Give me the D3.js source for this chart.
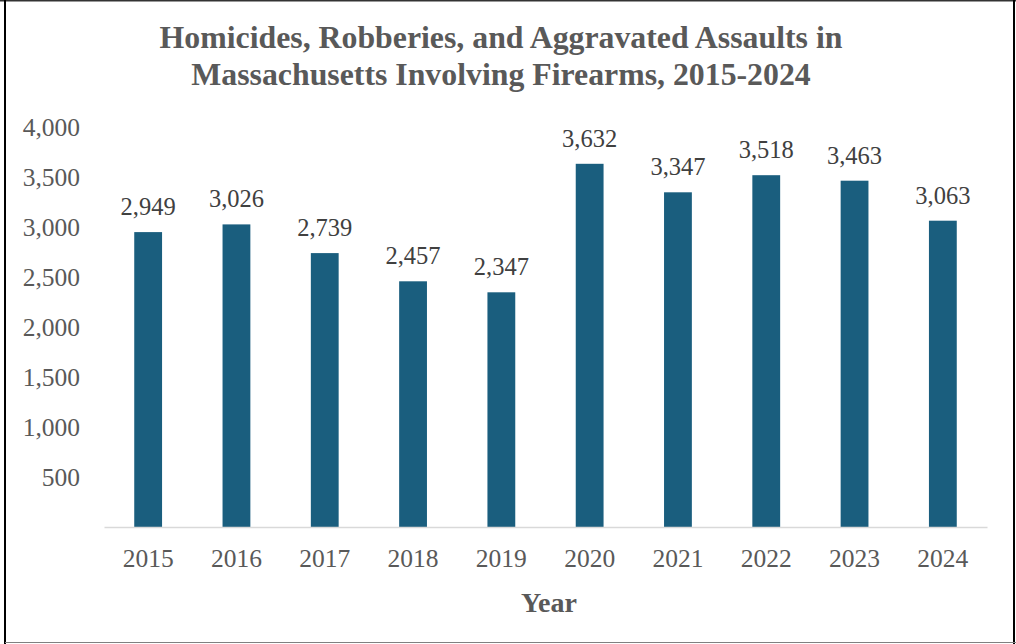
<!DOCTYPE html>
<html>
<head>
<meta charset="utf-8">
<script src="https://cdn.jsdelivr.net/npm/d3@7"></script>
<style>
  html, body { margin: 0; padding: 0; background: #fff; }
  svg { display: block; }
  text { font-family: "Liberation Serif", "Times New Roman", serif; }
</style>
</head>
<body>
<svg id="chart" width="1016" height="644"></svg>
<script>
// Firearm-involved homicides, robberies and aggravated assaults by year
const years = ["2015", "2016", "2017", "2018", "2019", "2020", "2021", "2022", "2023", "2024"];
const counts = [2949, 3026, 2739, 2457, 2347, 3632, 3347, 3518, 3463, 3063];
const yTicks = [500, 1000, 1500, 2000, 2500, 3000, 3500, 4000];
const titleLines = ["Homicides, Robberies, and Aggravated Assaults in", "Massachusetts Involving Firearms, 2015-2024"];

const svg = d3.select("#chart");
const W = 1016, H = 644;
const plot = { left: 104, right: 987, top: 127, bottom: 527 };
const serif = "Liberation Serif, Times New Roman, serif";

// Frame
svg.append("rect").attr("x", 0).attr("y", 0).attr("width", W).attr("height", H).attr("fill", "#fff");
svg.append("line").attr("x1", 0).attr("x2", W).attr("y1", 0.75).attr("y2", 0.75).attr("stroke", "#333").attr("stroke-width", 1.5);
svg.append("line").attr("x1", 5).attr("x2", 5).attr("y1", 0).attr("y2", H).attr("stroke", "#000").attr("stroke-width", 2);
svg.append("line").attr("x1", 1014).attr("x2", 1014).attr("y1", 0).attr("y2", H).attr("stroke", "#000").attr("stroke-width", 2);
svg.append("line").attr("x1", 5).attr("x2", W).attr("y1", 642.5).attr("y2", 642.5).attr("stroke", "#808080").attr("stroke-width", 1);

const x = d3.scaleBand().domain(years).range([plot.left, plot.right]).paddingInner(0.685).paddingOuter(0.3425);
const y = d3.scaleLinear().domain([0, 4000]).range([plot.bottom, plot.top]);

// Title
svg.append("text")
  .attr("x", 501).attr("y", 48)
  .attr("text-anchor", "middle")
  .attr("font-weight", "bold").attr("font-size", 31.8).attr("fill", "#595959")
  .selectAll("tspan").data(titleLines).join("tspan")
  .attr("x", 501).attr("dy", (d, i) => i === 0 ? 0 : 36.5)
  .text(d => d);

// Y axis labels (no line)
const yAxis = svg.append("g")
  .attr("transform", `translate(${plot.left - 24},0)`)
  .call(d3.axisLeft(y).tickValues(yTicks).tickSize(0).tickPadding(0).tickFormat(d3.format(",")));
yAxis.select(".domain").remove();
yAxis.selectAll("text").attr("font-size", 25.5).attr("fill", "#595959").attr("font-family", serif);

// Bars
svg.append("g").selectAll("rect").data(years).join("rect")
  .attr("x", d => x(d))
  .attr("y", (d, i) => y(counts[i]))
  .attr("width", x.bandwidth())
  .attr("height", (d, i) => y(0) - y(counts[i]))
  .attr("fill", "#1a5e7e");

// Value labels
svg.append("g").selectAll("text").data(years).join("text")
  .attr("x", d => x(d) + x.bandwidth() / 2)
  .attr("y", (d, i) => y(counts[i]) - 17)
  .attr("text-anchor", "middle")
  .attr("font-size", 24.5).attr("fill", "#404040").attr("font-family", serif)
  .text((d, i) => d3.format(",")(counts[i]));

// X axis
const xAxis = svg.append("g")
  .attr("transform", `translate(0,${plot.bottom})`)
  .call(d3.axisBottom(x).tickSize(0).tickPadding(0));
xAxis.select(".domain").attr("stroke", "#d9d9d9").attr("stroke-width", 1.5);
xAxis.selectAll("text").attr("dy", null).attr("y", 40)
  .attr("font-size", 25.5).attr("fill", "#595959").attr("font-family", serif);

// X axis title
svg.append("text")
  .attr("x", 549).attr("y", 612)
  .attr("text-anchor", "middle")
  .attr("font-weight", "bold").attr("font-size", 28).attr("fill", "#595959").attr("font-family", serif)
  .text("Year");
</script>
</body>
</html>
